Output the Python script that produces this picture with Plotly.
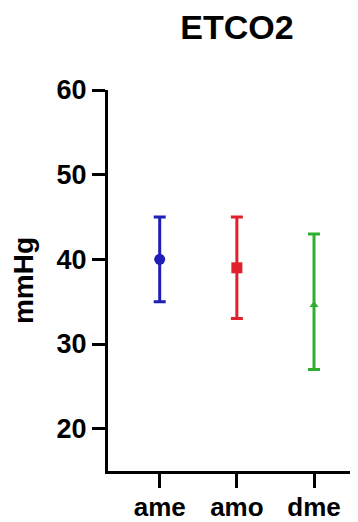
import plotly.graph_objects as go

categories = ["ame", "amo", "dme"]
means = [40, 39, 34.6]
err_plus = [5, 6, 8.4]
err_minus = [5, 6, 7.6]
colors = ["#1f1fb8", "#e0202c", "#2eb02e"]
symbols = ["circle", "square", "triangle-up"]
marker_sizes = [11, 11, 8]
yticks = [20, 30, 40, 50, 60]

# page body has an 8px margin, so the figure is drawn 8px right/down
OFF = 8
W, H = 358 - OFF, 522 - OFF

fig = go.Figure()
for i, c in enumerate(categories):
    fig.add_trace(go.Scatter(
        x=[c], y=[means[i]], mode="markers",
        marker=dict(color=colors[i], size=marker_sizes[i], symbol=symbols[i]),
        error_y=dict(type="data", symmetric=False, array=[err_plus[i]],
                     arrayminus=[err_minus[i]], color=colors[i],
                     thickness=3, width=6),
        showlegend=False,
    ))

font = "Liberation Sans, Arial, sans-serif"
fig.update_layout(
    width=W, height=H,
    margin=dict(l=108 - OFF, r=0, t=90 - OFF, b=51, autoexpand=False),
    plot_bgcolor="white", paper_bgcolor="white",
    title=dict(text="<b>ETCO2</b>", x=(237-108)/250, xref="paper", xanchor="center",
               y=1-(27-OFF)/H, yref="container", yanchor="middle",
               font=dict(family=font, size=34, color="black")),
    xaxis=dict(type="category", range=[-0.67, 2.57], showgrid=False,
               showline=True, linecolor="black", linewidth=3,
               ticks="outside", ticklen=14, tickwidth=3, tickcolor="black",
               ticklabelstandoff=-3, automargin=False,
               tickfont=dict(family=font, size=26, color="black", weight="bold"),
               zeroline=False),
    yaxis=dict(range=[15, 60], tickvals=yticks, showgrid=False,
               showline=True, linecolor="black", linewidth=3,
               ticks="outside", ticklen=13, tickwidth=3, tickcolor="black",
               automargin=False,
               tickfont=dict(family=font, size=27, color="black", weight="bold"),
               title=dict(text="<b>mmHg</b>", standoff=16,
                          font=dict(family=font, size=28, color="black")),
               zeroline=False),
)
fig.write_html("out.html")
